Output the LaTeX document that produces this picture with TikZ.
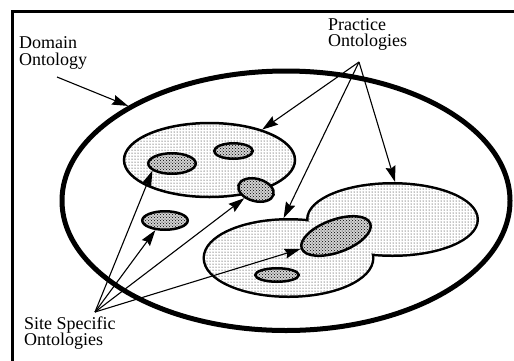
\documentclass[tikz,border=0pt]{standalone}
\usepackage{fontspec}
\setmainfont{Liberation Serif}
\usetikzlibrary{shapes.geometric,patterns,arrows.meta}

\begin{document}
\begin{tikzpicture}[x=1pt,y=-1pt,
  lbl/.style={anchor=north west,inner sep=0pt,align=left,
              font=\fontsize{18}{16.5}\selectfont},
  ptr/.style={line width=1.1pt,-{Stealth[length=16pt,width=10pt,inset=2pt]}},
  practice/.style={ellipse,inner sep=0pt,preaction={fill=white},pattern=dots},
  sitebox/.style={ellipse,draw,line width=2.5pt,inner sep=0pt,
                  preaction={fill=gray!35},pattern=crosshatch dots},
]
\useasboundingbox (0,0) rectangle (514,360);

% frame (only top and left edges fall inside the page)
\draw[line width=3pt] (520,11.5) -- (12,11.5) -- (12,370);

% domain ontology
\node[ellipse,draw,line width=5pt,inner sep=0pt,
      minimum width=448pt,minimum height=259.5pt] (dom) at (286,200.75) {};

% upper practice ontology
\node[practice,draw,line width=2.5pt,minimum width=171pt,minimum height=74pt]
  (up) at (209.5,160) {};

% two overlapping practice ontologies: thick outlines first, then the fills
% hide the inner halves so only the outline of the union remains
\node[ellipse,draw,line width=5pt,inner sep=0pt,minimum width=168pt,minimum height=70pt]
  (ri) at (392.5,219.5) {};
\node[ellipse,draw,line width=5pt,inner sep=0pt,minimum width=167pt,minimum height=75pt]
  (lo) at (288.5,258) {};
\node[practice,minimum width=168pt,minimum height=70pt] at (ri.center) {};
\node[practice,minimum width=167pt,minimum height=75pt] at (lo.center) {};

% site specific ontologies
\node[sitebox,minimum width=47.5pt,minimum height=20.5pt] (ua) at (172,163.5) {};
\node[sitebox,minimum width=38.5pt,minimum height=15.5pt] (ub) at (233.5,151) {};
\node[sitebox,minimum width=36.3pt,minimum height=22.3pt,rotate=-15] (uc) at (256,190) {};
\node[sitebox,minimum width=45.5pt,minimum height=18.5pt] (is) at (165,220.5) {};
\node[sitebox,minimum width=73pt,minimum height=32.7pt,rotate=20] (bb) at (336,236) {};
\node[sitebox,minimum width=43.5pt,minimum height=13.5pt] (ls) at (277,275) {};

% labels
\node[lbl] (domt) at (19,36.5) {Domain\\Ontology};
\node[lbl] (pract) at (328,18) {Practice\\Ontologies};
\node[lbl] (sitet) at (24,316.5) {Site Specific\\Ontologies};

\coordinate (dA) at (57,77);
\coordinate (pA) at (359,62);
\coordinate (sA) at (95,312);

% pointers
\draw[ptr] (dA) -- (dom.149);
\draw[ptr] (pA) -- (up.30);
\draw[ptr] (pA) -- (lo.97);
\draw[ptr] (pA) -- (ri.86);
\draw[ptr] (sA) -- (ua.200);
\draw[ptr] (sA) -- (is.225);
\draw[ptr] (sA) -- (uc.230);
\draw[ptr] (sA) -- (bb.180);
\end{tikzpicture}
\end{document}
